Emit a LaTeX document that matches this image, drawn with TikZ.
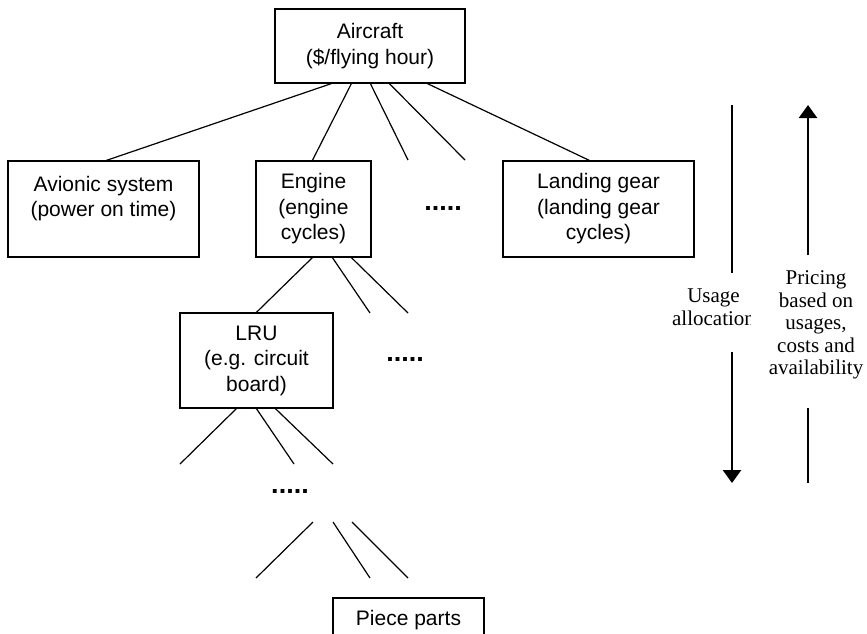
\documentclass[tikz,border=0pt]{standalone}
\usepackage{fontspec}
\setmainfont{Liberation Serif}
\setsansfont{Liberation Sans}
\usetikzlibrary{arrows.meta}
\begin{document}
\begin{tikzpicture}[x=1pt,y=-1pt,
  box/.style={draw, line width=1.2pt, rectangle, inner sep=0pt, align=center,
    font=\sffamily\fontsize{21}{25.5}\selectfont},
  dots/.style={font=\sffamily\bfseries\fontsize{27}{27}\selectfont, inner sep=0pt},
  link/.style={line width=1.2pt},
  flow/.style={line width=2.6pt, -{Triangle[width=18pt,length=13pt]}},
  bar/.style={line width=2.6pt},
  note/.style={font=\fontsize{21}{22.5}\selectfont, align=center, inner sep=0pt}]
\useasboundingbox (0,0) rectangle (867,633);
\clip (0,0) rectangle (867,633);

% tree of items
\node[box, minimum width=190pt, minimum height=74pt] (air) at (370,46) {Aircraft\\(\$/flying hour)};
\node[box, minimum width=191pt, minimum height=96pt] (avio) at (103.5,209) {Avionic system\\(power on time)\\\mbox{}};
\node[box, minimum width=115pt, minimum height=96pt] (eng) at (313.5,209) {Engine\\(engine\\cycles)};
\node[box, minimum width=191pt, minimum height=96pt] (gear) at (598.5,209) {Landing gear\\(landing gear\\cycles)};
\node[box, minimum width=153pt, minimum height=95pt] (lru) at (256.5,360.5) {LRU\\(e.g. circuit\\board)};
\node[box, minimum width=151pt, minimum height=44pt] (parts) at (408.5,620) {Piece parts};

\node[dots] (d1) at (443,208) {.....};
\node[dots] (d2) at (405,359) {.....};
\node[dots] (d3) at (290,491) {.....};

% open branch ends
\coordinate (a3) at (408,160);
\coordinate (a4) at (465,160);
\coordinate (e2) at (370,313);
\coordinate (e3) at (408,313);
\coordinate (l1) at (180,464);
\coordinate (l2) at (294,464);
\coordinate (l3) at (333,464);
\coordinate (p1s) at (313,522);
\coordinate (p2s) at (333,522);
\coordinate (p3s) at (352,522);
\coordinate (p1) at (256,578);
\coordinate (p2) at (370,578);
\coordinate (p3) at (408,578);

\draw[link] ([xshift=57pt]air.south west) -- ([xshift=99pt]avio.north west);
\draw[link] ([xshift=77pt]air.south west) -- ([xshift=57pt]eng.north west);
\draw[link] ([xshift=96pt]air.south west) -- (a3);
\draw[link] ([xshift=115pt]air.south west) -- (a4);
\draw[link] ([xshift=153pt]air.south west) -- ([xshift=87pt]gear.north west);

\draw[link] ([xshift=57pt]eng.south west) -- ([xshift=77pt]lru.north west);
\draw[link] ([xshift=77pt]eng.south west) -- (e2);
\draw[link] ([xshift=96pt]eng.south west) -- (e3);

\draw[link] ([xshift=57pt]lru.south west) -- (l1);
\draw[link] ([xshift=77pt]lru.south west) -- (l2);
\draw[link] ([xshift=96pt]lru.south west) -- (l3);

\draw[link] (p1s) -- (p1);
\draw[link] (p2s) -- (p2);
\draw[link] (p3s) -- (p3);

% usage allocation (downwards) and pricing (upwards)
\coordinate (u1) at (732,105);
\coordinate (u2) at (732,273);
\coordinate (u3) at (732,352);
\coordinate (u4) at (732,483);
\coordinate (r1) at (808,255);
\coordinate (r2) at (808,105);
\coordinate (r3) at (808,408);
\coordinate (r4) at (808,483);
\draw[bar] (u1) -- (u2);
\draw[flow] (u3) -- (u4);
\draw[flow] (r1) -- (r2);
\draw[bar] (r3) -- (r4);

\node[note] (usage) at (713.5,307) {Usage\\allocation};
\node[note, fill=white, inner xsep=18pt, inner ysep=1pt] (price) at (816,325)
  {Pricing\\based on\\usages,\\costs and\\availability};
\end{tikzpicture}
\end{document}
